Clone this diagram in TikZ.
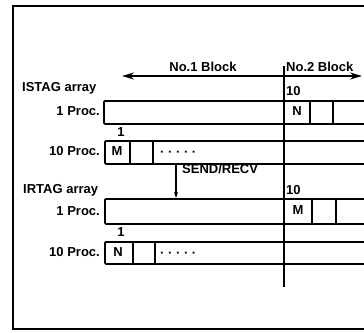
\documentclass[tikz,border=0pt]{standalone}
\usepackage{fontspec}
\setmainfont{Liberation Sans}
\usetikzlibrary{arrows.meta}
\begin{document}
\begin{tikzpicture}[x=1pt,y=-1pt,
  lbl/.style={font=\fontsize{13}{15}\selectfont\bfseries, inner sep=0pt},
  box/.style={draw, line width=1.8pt, rounded corners=1.2pt, minimum width=270pt, anchor=north west, inner sep=0pt},
  cellline/.style={line width=1.7pt},
]
\useasboundingbox (0,0) rectangle (364,332);
\clip (0,0) rectangle (364,332);
% frame
\draw[line width=2.2pt] (13,6) rectangle (380,329);
% block arrow
\coordinate (bl) at (122,76);
\coordinate (br) at (362,76);
\draw[line width=1.9pt, {Stealth[length=12pt,width=7pt]}-{Stealth[length=12pt,width=7pt]}] (bl) -- (br);
\node[lbl] (b1) at (203,67) {No.1 Block};
\node[lbl, anchor=west] (b2) at (286,67) {No.2 Block};
% vertical divider
\coordinate (vt) at (284,66);
\coordinate (vb) at (284,287);
\draw[line width=1.8pt] (vt) -- (vb);
% ISTAG
\node[lbl, anchor=west] (ist) at (22,88) {ISTAG array};
\node[lbl, anchor=west] (ten1) at (286,91) {10};
\node[lbl, anchor=east] (p1a) at (100,111) {1 Proc.};
\node[box, minimum height=23pt] (isa) at (103,100) {};
\draw[cellline] (310,100) -- (310,123) (333,100) -- (333,123);
\node[lbl] (na) at (297,111.5) {N};
\node[lbl] (one1) at (121,132) {1};
\node[lbl, anchor=east] (p10a) at (100,151) {10 Proc.};
\node[box, minimum height=23pt] (isb) at (104,140) {};
\draw[cellline] (130,140) -- (130,163) (153,140) -- (153,163);
\node[lbl] (mb) at (117,151.5) {M};
\node[lbl, anchor=west] (dotsb) at (160,154) {· · · · ·};
% SEND/RECV
\coordinate (sr) at (176,0);
\draw[line width=1.3pt, -{Stealth[length=6pt,width=4pt]}] (sr |- isb.south) -- (sr |- 0,198);
\node[lbl, anchor=west] (send) at (182,169) {SEND/RECV};
% IRTAG
\node[lbl, anchor=west] (irt) at (23,190) {IRTAG array};
\node[lbl, anchor=west] (ten2) at (286,190) {10};
\node[lbl, anchor=east] (p1c) at (100,211) {1 Proc.};
\node[box, minimum height=25pt] (irc) at (104,198) {};
\draw[cellline] (312,198) -- (312,223) (336,198) -- (336,223);
\node[lbl] (mc) at (298,210.5) {M};
\node[lbl] (one2) at (121,232) {1};
\node[lbl, anchor=east] (p10d) at (100,252) {10 Proc.};
\node[box, minimum height=22pt] (ird) at (104,241) {};
\draw[cellline] (133,241) -- (133,263) (155,241) -- (155,263);
\node[lbl] (nd) at (118,252) {N};
\node[lbl, anchor=west] (dotsd) at (160,255) {· · · · ·};
\end{tikzpicture}
\end{document}
